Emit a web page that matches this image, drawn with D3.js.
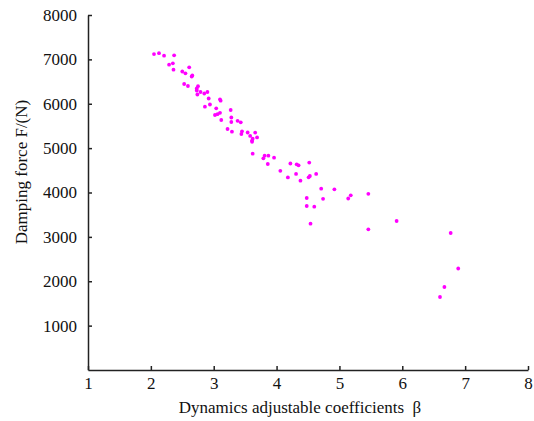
<!DOCTYPE html>
<html lang="en">
<head>
  <meta charset="UTF-8">
  <title>Damping force vs dynamics adjustable coefficient</title>
  <style>
    html, body { margin: 0; padding: 0; background: #fff; }
    svg { display: block; }
    .axis text { font-family: "Liberation Serif", "Times New Roman", serif; font-size: 17px; fill: #111; }
    .axis path, .axis line { stroke: #222; stroke-width: 1.5; }
    .label { font-family: "Liberation Serif", "Times New Roman", serif; font-size: 17px; fill: #111; }
  </style>
</head>
<body>
  <script src="https://d3js.org/d3.v7.min.js"></script>
  <script>
    const WIDTH = 534;
    const HEIGHT = 421;
    const margin = {top: 15, right: 6, bottom: 51, left: 88};

    // values: beta and damping force F (N)
    const beta = [
      2.05, 2.13, 2.21, 2.37, 2.29, 2.35, 2.36, 2.61, 2.50, 2.55,
      2.65, 2.66, 2.53, 2.59, 2.75, 2.73, 2.73, 2.79, 2.74, 2.85,
      2.90, 2.92, 3.10, 3.11, 2.86, 2.94, 3.04, 3.27, 3.02, 3.06,
      3.10, 3.28, 3.28, 3.38, 3.43, 3.12, 3.22, 3.29, 3.45, 3.44,
      3.54, 3.66, 3.58, 3.69, 3.62, 3.61, 3.61, 3.62, 3.81, 3.87,
      3.79, 3.96, 3.86, 4.22, 4.32, 4.35, 4.52, 4.06, 4.31, 4.18,
      4.38, 4.51, 4.53, 4.63, 4.71, 4.92, 4.48, 4.74, 5.18, 5.14,
      5.46, 4.48, 4.60, 4.54, 5.46, 5.91, 6.77, 6.89, 6.67, 6.60
    ];
    const force = [
      7120, 7140, 7083, 7092, 6880, 6911, 6767, 6821, 6727, 6686,
      6614, 6637, 6445, 6400, 6395, 6344, 6299, 6265, 6208, 6231,
      6265, 6118, 6100, 6069, 5934, 5983, 5897, 5859, 5746, 5764,
      5796, 5690, 5589, 5616, 5582, 5634, 5431, 5370, 5379, 5318,
      5352, 5350, 5275, 5242, 5212, 5170, 5143, 4874, 4829, 4829,
      4771, 4784, 4642, 4653, 4635, 4613, 4674, 4489, 4419, 4340,
      4266, 4343, 4372, 4419, 4086, 4072, 3876, 3858, 3937, 3865,
      3971, 3696, 3680, 3297, 3171, 3358, 3087, 2287, 1870, 1645
    ];
    const xTicks = [1, 2, 3, 4, 5, 6, 7, 8];
    const yTicks = [1000, 2000, 3000, 4000, 5000, 6000, 7000, 8000];

    const innerWidth = WIDTH - margin.left - margin.right;
    const innerHeight = HEIGHT - margin.top - margin.bottom;

    const xScale = d3.scaleLinear().domain([1, 8]).range([0, innerWidth]);
    const yScale = d3.scaleLinear().domain([0, 8000]).range([innerHeight, 0]);

    const svg = d3.select('body').append('svg')
      .attr('width', WIDTH)
      .attr('height', HEIGHT);

    const main = svg.append('g')
      .attr('transform', `translate(${margin.left},${margin.top})`);

    // axes, ticks pointing inward
    const xAxis = d3.axisBottom(xScale)
      .tickValues(xTicks)
      .tickFormat(d3.format('d'))
      .tickSizeInner(-4)
      .tickSizeOuter(0)
      .tickPadding(7);
    const yAxis = d3.axisLeft(yScale)
      .tickValues(yTicks)
      .tickFormat(d3.format('d'))
      .tickSizeInner(-4)
      .tickSizeOuter(0)
      .tickPadding(11);

    main.append('g')
      .attr('class', 'axis')
      .attr('transform', `translate(0,${innerHeight})`)
      .call(xAxis);
    main.append('g')
      .attr('class', 'axis')
      .call(yAxis);

    // points
    const points = beta.map((b, i) => ({x: b, y: force[i]}));
    main.selectAll('circle')
      .data(points)
      .enter()
      .append('circle')
      .attr('cx', d => xScale(d.x))
      .attr('cy', d => yScale(d.y))
      .attr('r', 1.9)
      .attr('fill', '#ff00ff');

    // axis titles
    svg.append('text')
      .attr('class', 'label')
      .attr('x', 300)
      .attr('y', 413)
      .attr('text-anchor', 'middle')
      .style('white-space', 'pre')
      .text('Dynamics adjustable coefficients  β');

    svg.append('text')
      .attr('class', 'label')
      .attr('transform', 'translate(27,172) rotate(-90)')
      .attr('text-anchor', 'middle')
      .text('Damping force F/(N)');
  </script>
</body>
</html>
